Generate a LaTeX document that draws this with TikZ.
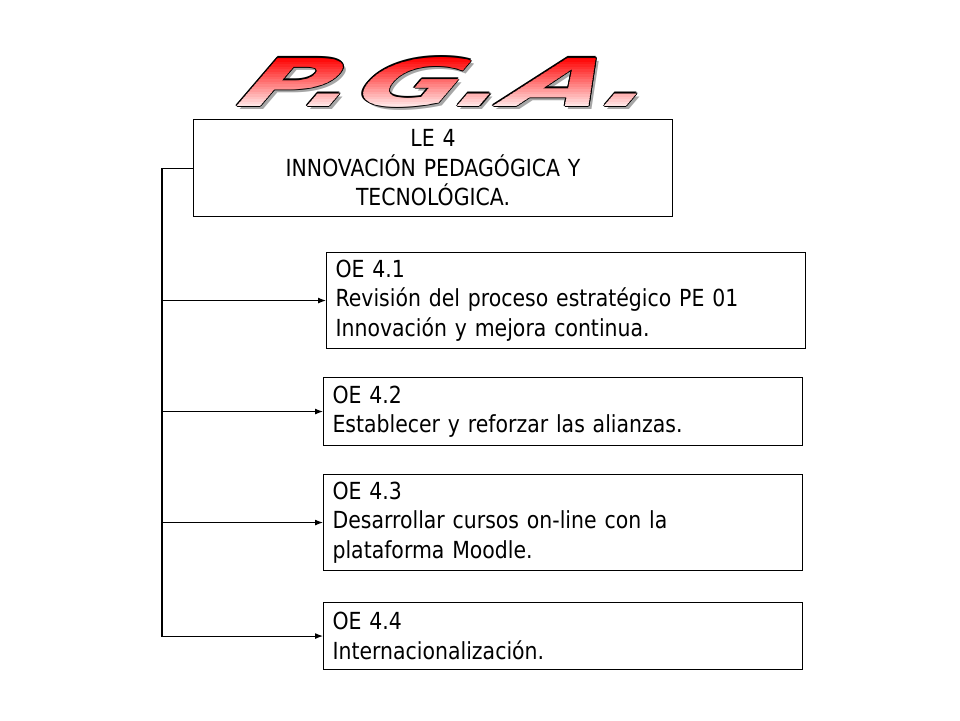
\documentclass[tikz,border=0pt]{standalone}
\usepackage{fontspec}
\setmainfont{DejaVu Sans}[FakeStretch=0.87]
\newfontfamily\titlefont{DejaVu Sans}
\usetikzlibrary{positioning,arrows.meta}

\begin{document}
\begin{tikzpicture}[x=1pt,y=-1pt,
  oebox/.style={draw,line width=1.1pt,inner xsep=9pt,inner ysep=0pt,minimum height=#1,text width=461pt,anchor=north west,font=\fontsize{23.5}{29.5}\selectfont},
  pga/.style={font=\titlefont\bfseries\fontsize{66}{66}\selectfont,xscale=1.9,xslant=0.45,inner sep=0pt},
  link/.style={line width=1.1pt,-{Latex[length=8pt,width=6pt]}}]
\useasboundingbox (0,0) rectangle (960,720);
% title with shadow, outline and red fade
\node[pga,text=black!35] (pga-shadow) at (456,85) {P.G.A.};
\foreach \dx/\dy [count=\i] in {1.1/0,-1.1/0,0/1.1,0/-1.1,0.8/0.8,-0.8/0.8,0.8/-0.8,-0.8/-0.8}
  \node[pga,text=black] (pga-line\i) at (453+\dx,82+\dy) {P.G.A.};
\foreach \k in {0,...,19}{
  \begin{scope}
    \pgfmathsetmacro\ytop{\k==0 ? 30 : 57+2.5*\k}
    \pgfmathsetmacro\ybot{\k==19 ? 120 : 59.7+2.5*\k}
    \pgfmathsetmacro\tint{100-4.7*\k}
    \clip (200,\ytop) rectangle (720,\ybot);
    \node[pga,text=red!\tint!white] (pga\k) at (453,82) {P.G.A.};
  \end{scope}}
% boxes
\node[oebox=97pt,align=center] (le) at (193,119) {LE 4\\INNOVACIÓN PEDAGÓGICA Y\\TECNOLÓGICA.};
\node[oebox=96pt,align=left] (oe1) at (326,252) {OE 4.1\\Revisión del proceso estratégico PE 01\\Innovación y mejora continua.};
\node[oebox=68pt,align=left] (oe2) at (323,377) {OE 4.2\\Establecer y reforzar las alianzas.};
\node[oebox=96pt,align=left] (oe3) at (323,474) {OE 4.3\\Desarrollar cursos on-line con la\\plataforma Moodle.};
\node[oebox=67pt,align=left] (oe4) at (323,602) {OE 4.4\\Internacionalización.};
% connectors
\coordinate (trunk) at (162,0);
\draw[link] (le.west) -- (trunk |- le.west) -- (trunk |- oe4.west) -- (oe4.west);
\draw[link] (trunk |- oe1.west) -- (oe1.west);
\draw[link] (trunk |- oe2.west) -- (oe2.west);
\draw[link] (trunk |- oe3.west) -- (oe3.west);
\end{tikzpicture}
\end{document}
